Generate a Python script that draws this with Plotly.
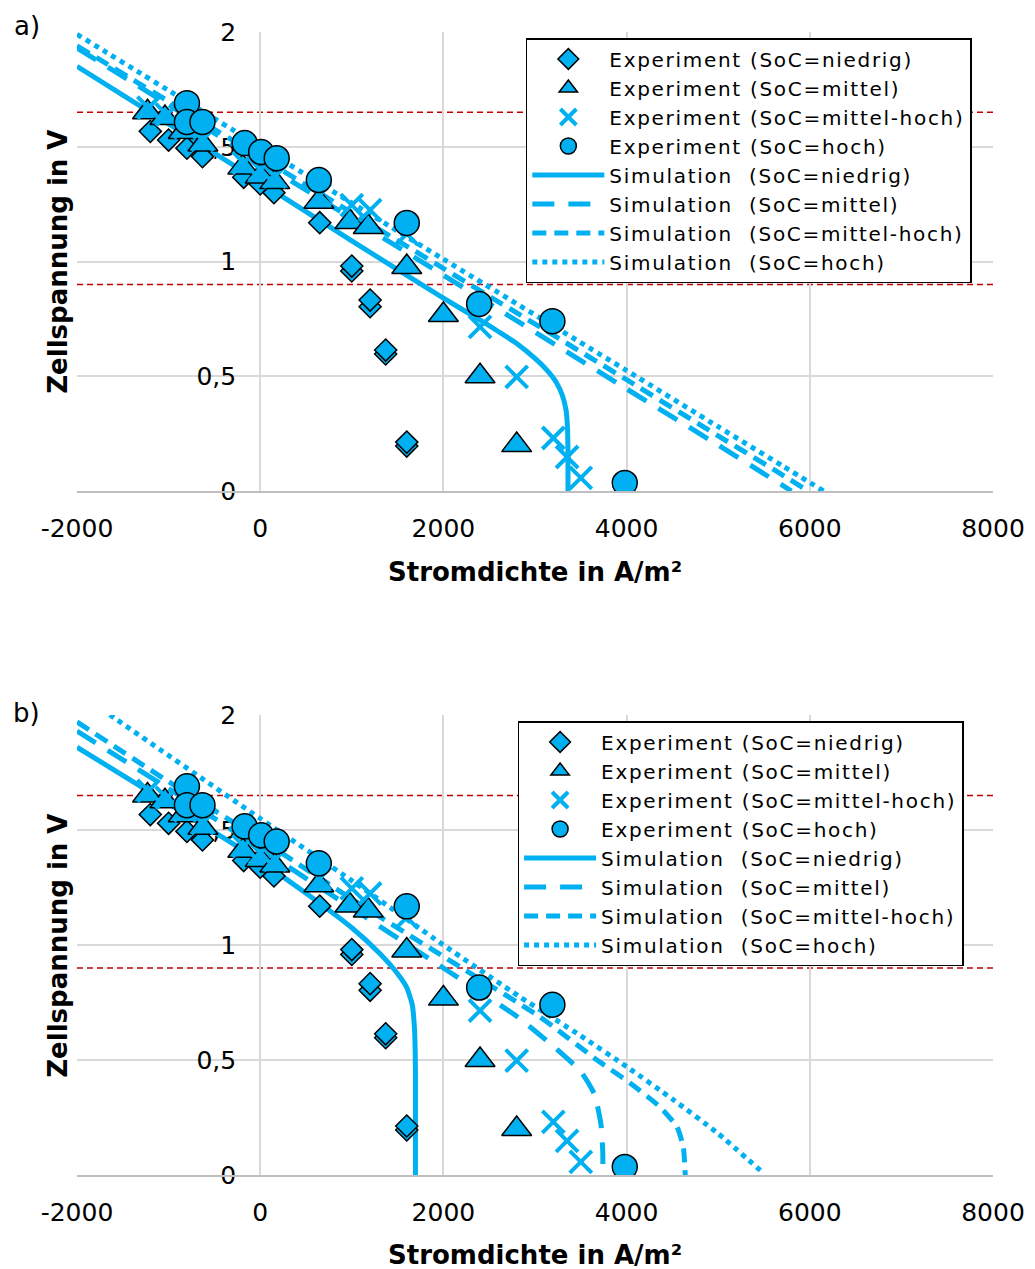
import plotly.graph_objects as go

# ---- axis ticks -------------------------------------------------------------
x_tick_vals = [-2000, 0, 2000, 4000, 6000, 8000]
x_tick_text = ["-2000", "0", "2000", "4000", "6000", "8000"]
y_tick_vals = [0, 0.5, 1, 1.5, 2]
y_tick_text = ["0", "0,5", "1", "1,5", "2"]

# operating limits (V)
limit_upper = 1.65
limit_lower = 0.9

# ---- measured polarisation curves (current density A/m², cell voltage V) ----
exp_niedrig_run2_x = [1000, 1200, 1370, 1600]
exp_niedrig_run2_y = [0.959, 0.803, 0.597, 0.196]
exp_niedrig_x = [-1200, -1000, -800, -630, -180, 0, 150, 650, 1000, 1200, 1370, 1600]
exp_niedrig_y = [1.567, 1.529, 1.494, 1.457, 1.367, 1.338, 1.30, 1.169, 0.98, 0.832, 0.614, 0.213]

exp_mittel_x = [-1230, -1040, -840, -625, -190, 0, 160, 640, 980, 1180, 1600, 2000, 2400, 2800]
exp_mittel_y = [1.65, 1.625, 1.564, 1.51, 1.41, 1.37, 1.346, 1.26, 1.172, 1.15, 0.976, 0.767, 0.50, 0.20]

exp_mittelhoch_x = [-1220, -1020, -820, -630, -180, 0, 160, 650, 1000, 1200, 1600, 2400, 2800, 3200, 3350, 3500]
exp_mittelhoch_y = [1.67, 1.64, 1.585, 1.53, 1.43, 1.40, 1.37, 1.29, 1.246, 1.224, 1.12, 0.715, 0.497, 0.231, 0.148, 0.057]

exp_hoch_x = [-800, -800, -630, -170, 10, 180, 640, 1600, 2390, 3190, 3980]
exp_hoch_y = [1.69, 1.608, 1.608, 1.516, 1.477, 1.45, 1.355, 1.168, 0.815, 0.74, 0.035]

# ---- simulated curves, model a) ---------------------------------------------
sim_a_niedrig_x = [-2000, -1000, 0, 1000, 2000, 2400, 2600, 2800, 3000, 3130, 3230, 3300, 3340, 3355, 3360, 3360]
sim_a_niedrig_y = [1.85, 1.60, 1.345, 1.09, 0.84, 0.745, 0.695, 0.643, 0.578, 0.527, 0.475, 0.415, 0.35, 0.27, 0.15, 0.0]
sim_a_mittel_x = [-2000, 0, 2000, 4000, 5000, 5500, 5800]
sim_a_mittel_y = [1.93, 1.435, 0.94, 0.445, 0.20, 0.075, 0.0]
sim_a_mittelhoch_x = [-2000, 0, 2000, 4000, 5000, 5600, 5980]
sim_a_mittelhoch_y = [1.94, 1.455, 0.97, 0.485, 0.24, 0.095, 0.0]
sim_a_hoch_x = [-2000, 0, 2000, 4000, 5000, 5700, 6150]
sim_a_hoch_y = [1.99, 1.50, 1.01, 0.525, 0.28, 0.11, 0.0]

# ---- simulated curves, model b) ---------------------------------------------
sim_b_niedrig_x = [-2000, -1000, 0, 500, 1000, 1300, 1500, 1600, 1660, 1685, 1695, 1695]
sim_b_niedrig_y = [1.86, 1.615, 1.365, 1.225, 1.075, 0.965, 0.875, 0.815, 0.74, 0.63, 0.45, 0.0]
sim_b_mittel_x = [-2000, -1000, 0, 1000, 2000, 2800, 3200, 3500, 3650, 3720, 3740, 3740]
sim_b_mittel_y = [1.93, 1.68, 1.42, 1.16, 0.90, 0.69, 0.56, 0.45, 0.35, 0.22, 0.10, 0.0]
sim_b_mittelhoch_x = [-2000, -1000, 0, 1000, 2000, 3055, 3677, 4037, 4364, 4550, 4620, 4640]
sim_b_mittelhoch_y = [1.97, 1.71, 1.46, 1.20, 0.95, 0.687, 0.50, 0.40, 0.296, 0.209, 0.12, 0.0]
sim_b_hoch_x = [-2000, -1640, 0, 1000, 2000, 2836, 3500, 4004, 4500, 5000, 5460]
sim_b_hoch_y = [2.10, 2.0, 1.55, 1.28, 1.0, 0.774, 0.605, 0.47, 0.33, 0.18, 0.02]

BLUE = "#00B0F0"
FONT = "DejaVu Sans"
W, H = 1035, 1269


def legend_label(text):
    # slightly spread lettering for the legend entries
    return f"<span style='letter-spacing:1.7px'>{text}</span>"


sim_styles = [
    ("Simulation\u00a0 (SoC=niedrig)", "solid"),
    ("Simulation\u00a0 (SoC=mittel)", "22px,14px"),
    ("Simulation\u00a0 (SoC=mittel-hoch)", "14px,8px"),
    ("Simulation\u00a0 (SoC=hoch)", "dot"),
]

fig = go.Figure()


def add_panel(sim_sets, xa, ya, legend_name):
    # simulated lines first so the measured markers sit on top
    for rank, ((name, dash), (sx, sy)) in enumerate(zip(sim_styles, sim_sets)):
        fig.add_trace(go.Scatter(
            x=sx, y=sy, mode="lines", name=legend_label(name),
            line=dict(color=BLUE, width=5, dash=dash, shape="spline", smoothing=0.5),
            xaxis=xa, yaxis=ya, legend=legend_name, legendrank=10 + rank,
        ))
    outline = dict(color="black", width=1.5)
    fig.add_trace(go.Scatter(
        x=exp_niedrig_run2_x + exp_niedrig_x, y=exp_niedrig_run2_y + exp_niedrig_y,
        mode="markers", name=legend_label("Experiment (SoC=niedrig)"),
        marker=dict(symbol="diamond", size=17, color=BLUE, line=outline),
        xaxis=xa, yaxis=ya, legend=legend_name, legendrank=1,
    ))
    fig.add_trace(go.Scatter(
        x=exp_mittel_x, y=exp_mittel_y, mode="markers",
        name=legend_label("Experiment (SoC=mittel)"),
        marker=dict(symbol="triangle-up", size=26, color=BLUE, line=outline),
        xaxis=xa, yaxis=ya, legend=legend_name, legendrank=2,
    ))
    fig.add_trace(go.Scatter(
        x=exp_mittelhoch_x, y=exp_mittelhoch_y, mode="markers",
        name=legend_label("Experiment (SoC=mittel-hoch)"),
        marker=dict(symbol="x-thin", size=22, color=BLUE,
                    line=dict(color=BLUE, width=4)),
        xaxis=xa, yaxis=ya, legend=legend_name, legendrank=3,
    ))
    fig.add_trace(go.Scatter(
        x=exp_hoch_x, y=exp_hoch_y, mode="markers",
        name=legend_label("Experiment (SoC=hoch)"),
        marker=dict(symbol="circle", size=25, color=BLUE, line=outline),
        xaxis=xa, yaxis=ya, legend=legend_name, legendrank=4,
    ))
    for level in (limit_upper, limit_lower):
        fig.add_shape(
            type="line", xref=xa, yref=ya, x0=-2000, x1=8000, y0=level, y1=level,
            line=dict(color="#C00000", width=1.6, dash="6px,4px"), layer="below",
        )


add_panel(
    [(sim_a_niedrig_x, sim_a_niedrig_y), (sim_a_mittel_x, sim_a_mittel_y),
     (sim_a_mittelhoch_x, sim_a_mittelhoch_y), (sim_a_hoch_x, sim_a_hoch_y)],
    "x", "y", "legend",
)
add_panel(
    [(sim_b_niedrig_x, sim_b_niedrig_y), (sim_b_mittel_x, sim_b_mittel_y),
     (sim_b_mittelhoch_x, sim_b_mittelhoch_y), (sim_b_hoch_x, sim_b_hoch_y)],
    "x2", "y2", "legend2",
)

tick_font = dict(family=FONT, size=25, color="black")
grid = "#D9D9D9"


def xaxis_cfg(anchor):
    return dict(
        domain=[0, 1], range=[-2000, 8000], anchor=anchor,
        tickmode="array", tickvals=x_tick_vals, ticktext=x_tick_text,
        showgrid=True, gridcolor=grid, gridwidth=1.5, zeroline=False,
        showline=True, linecolor="#BFBFBF", linewidth=2,
        ticks="", ticklabelstandoff=14, tickfont=tick_font,
        automargin=False, fixedrange=True,
    )


def yaxis_cfg(domain):
    return dict(
        domain=domain, range=[0, 2], anchor="free", position=0.2,
        tickmode="array", tickvals=y_tick_vals, ticktext=y_tick_text,
        showgrid=True, gridcolor=grid, gridwidth=1.5, zeroline=False,
        showline=False, ticks="", ticklabelstandoff=24, tickfont=tick_font,
        layer="below traces", automargin=False, fixedrange=True,
    )


legend_common = dict(
    bgcolor="white", bordercolor="black", borderwidth=1.5,
    font=dict(family=FONT, size=20, color="black"),
    xanchor="left", yanchor="top", itemwidth=72,
    tracegroupgap=0, itemsizing="trace",
)

fig.update_layout(
    width=W, height=H,
    margin=dict(l=77, r=42, t=0, b=0),
    paper_bgcolor="white", plot_bgcolor="white",
    font=dict(family=FONT, color="black"),
    xaxis=xaxis_cfg("y"), yaxis=yaxis_cfg([1 - 491 / H, 1 - 32 / H]),
    xaxis2=xaxis_cfg("y2"), yaxis2=yaxis_cfg([1 - 1175 / H, 1 - 715 / H]),
    legend=dict(x=0.49, y=1 - 38 / H, **legend_common),
    legend2=dict(x=0.481, y=1 - 721 / H, **legend_common),
)

title_font = dict(family=FONT, size=26, color="black", weight="bold")
annots = [
    dict(text="a)", x=-0.055, y=1 - 26 / H, font=dict(family=FONT, size=26)),
    dict(text="b)", x=-0.055, y=1 - 713 / H, font=dict(family=FONT, size=26)),
    dict(text="Stromdichte in A/m²", x=0.5, y=1 - 572 / H, font=title_font),
    dict(text="Stromdichte in A/m²", x=0.5, y=1 - 1255 / H, font=title_font),
    dict(text="Zellspannung in V", x=-0.021, y=1 - 262 / H, textangle=-90, font=title_font),
    dict(text="Zellspannung in V", x=-0.021, y=1 - 946 / H, textangle=-90, font=title_font),
]
for a in annots:
    fig.add_annotation(xref="paper", yref="paper", showarrow=False,
                       xanchor="center", yanchor="middle", **a)

fig.write_html("out.html")
